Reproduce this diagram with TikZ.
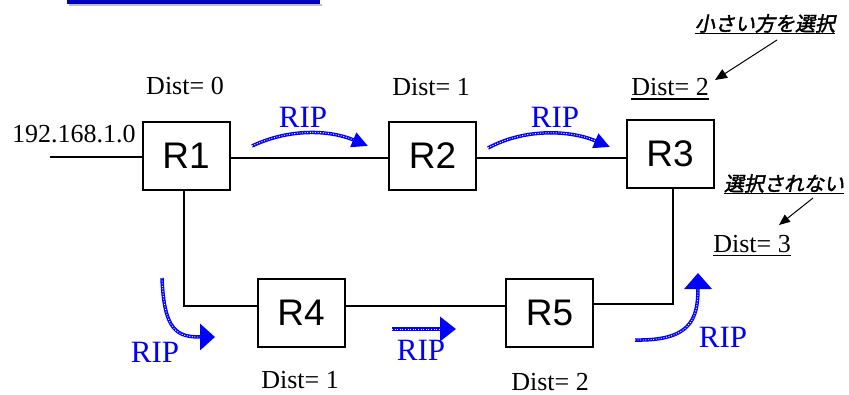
\documentclass[tikz,border=0pt]{standalone}
\usepackage{fontspec}
\setmainfont{Liberation Serif}
\newfontfamily\arial{Liberation Sans}
\newfontfamily\jpfont[FakeSlant=0.2,FakeBold=2]{Noto Sans CJK JP}
\usetikzlibrary{positioning}
\usetikzlibrary{arrows.meta}
\definecolor{ripblue}{RGB}{0,0,255}
\definecolor{titleblue}{RGB}{0,0,190}

\begin{document}
\begin{tikzpicture}[x=1pt,y=-1pt,
    dist/.style={anchor=base,inner sep=0pt,font=\fontsize{26}{28}\selectfont},
    rip/.style={anchor=base,inner sep=0pt,text=ripblue,font=\fontsize{31}{33}\selectfont},
    note/.style={anchor=base,inner sep=0pt,font=\jpfont\fontsize{20}{22}\selectfont},
    ripflow/.style 2 args={draw=ripblue,line width=3.5pt,
        -{Triangle[length=#1,width=#2]},
        postaction={draw=white,line width=0.9pt,dash pattern=on 1pt off 1.6pt,-,shorten >=#1}},
    mark line/.style={line width=1.8pt}]
    \useasboundingbox (0,0) rectangle (849,394);

    \fill[black!25] (69,4) rectangle (322,6);
    \fill[titleblue] (67,0) rectangle (320,4);

    \begin{scope}[every node/.style={draw,line width=2pt,minimum width=87pt,
        minimum height=68pt,inner sep=0pt,font=\arial\fontsize{37}{40}\selectfont}]
        \node (R1) at (186,155.5) {R1};
        \node (R2) at (432.5,156) {R2};
        \node (R3) at (670,153.5) {R3};
        \node (R4) at (301,312.5) {R4};
        \node (R5) at (549.5,312.5) {R5};
    \end{scope}

    \coordinate (net) at (50,157);
    \node[dist] (net label) at (74,142) {192.168.1.0};

    \node[dist] (d1) at (185,94) {Dist= 0};
    \node[dist] (d2) at (431,95) {Dist= 1};
    \node[dist] (d3) at (670,95) {Dist= 2};
    \node[dist] (d4) at (300,388) {Dist= 1};
    \node[dist] (d5) at (550,390) {Dist= 2};
    \node[dist] (d6) at (752,252) {Dist= 3};
    \draw[mark line] ([yshift=-4pt]d3.base west) -- ([yshift=-4pt]d3.base east);
    \draw[mark line] ([yshift=-3.5pt]d6.base west) -- ([yshift=-3.5pt]d6.base east);

    \node[note] (pick) at (765,31) {小さい方を選択};
    \node[note] (skip) at (784,191) {選択されない};
    \draw[mark line] ([yshift=-2.5pt]pick.base west) -- ([yshift=-2.5pt]pick.base east);
    \draw[mark line] ([yshift=-2.5pt]skip.base west) -- ([yshift=-2.5pt]skip.base east);

    \begin{scope}[line width=2pt]
        \draw (net) -- ([yshift=-1.5pt]R1.west);
        \draw ([yshift=-2.5pt]R1.east) -- ([yshift=-2.5pt]R1.east -| R2.west);
        \draw ([yshift=-2pt]R2.east) -- ([yshift=-2pt]R2.east -| R3.west);
        \draw ([xshift=-2pt]R1.south) |- ([yshift=6.5pt]R4.west);
        \draw ([yshift=6.5pt]R4.east) -- ([yshift=6.5pt]R4.east -| R5.west);
        \draw ([yshift=8.5pt]R5.east) -| ([xshift=3pt]R3.south);
    \end{scope}

    \coordinate (pick tail) at (777,40);
    \coordinate (pick head) at (715,80);
    \coordinate (skip tail) at (813,198);
    \coordinate (skip head) at (779,225);
    \draw[line width=1pt,-{Triangle[length=12pt,width=10pt]}] (pick tail) -- (pick head);
    \draw[line width=1pt,-{Triangle[length=11pt,width=9pt]}] (skip tail) -- (skip head);

    \node[rip] (rip12) at (303,127) {RIP};
    \node[rip] (rip23) at (555,127) {RIP};
    \node[rip] (rip14) at (155,362) {RIP};
    \node[rip] (rip45) at (421,360) {RIP};
    \node[rip] (rip53) at (723,347) {RIP};

    \draw[ripflow={16pt}{15pt}] (252,146) .. controls (290,128) and (330,130) .. (368,146);
    \draw[ripflow={16pt}{15pt}] (488,148) .. controls (525,128) and (570,130) .. (610,147);
    \draw[ripflow={15pt}{26pt}] (162,278) .. controls (164,332) and (178,337) .. (215,337);
    \draw[ripflow={16pt}{24pt}] (392,329) -- (456,329);
    \draw[ripflow={16pt}{27pt}] (635,340) .. controls (690,341) and (698,320) .. (698,273);
\end{tikzpicture}
\end{document}
